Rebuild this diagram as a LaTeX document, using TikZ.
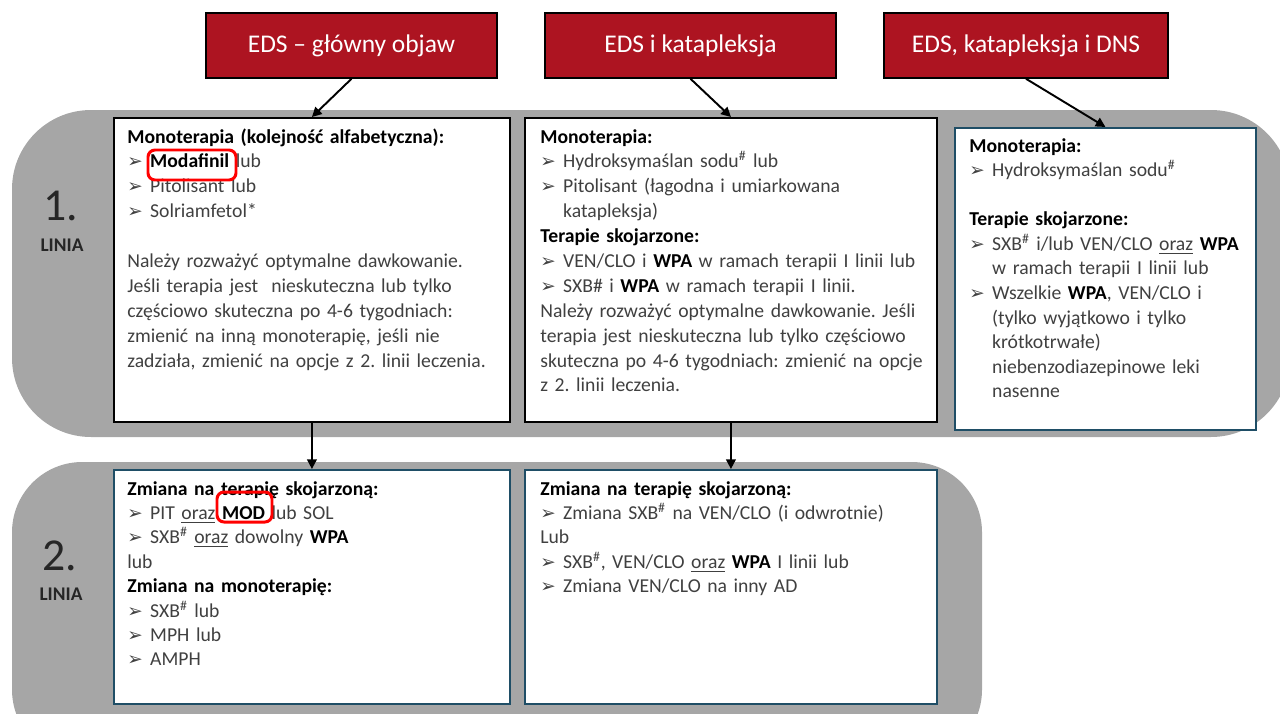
\documentclass[tikz,border=0pt]{standalone}
\usepackage{fontspec}
\setmainfont{Carlito}
\newfontfamily\symfont{DejaVu Sans}
\definecolor{HdrRed}{HTML}{AD1421}
\definecolor{BandGray}{HTML}{A6A6A6}
\definecolor{BoxTeal}{HTML}{1F4E66}
\definecolor{TxtGray}{HTML}{404040}
\usetikzlibrary{arrows.meta, positioning, calc}
\newcommand{\bul}{{\symfont\fontsize{10.5}{10}\selectfont ➢}}
\newcommand{\itm}{\par\hangindent=13pt\hangafter=1\noindent\makebox[13pt][l]{\bul}}
\newcommand{\hd}[1]{{\bfseries\color{black}#1}}
\newcommand{\sx}{\textsuperscript{\#}}
\begin{document}
\begin{tikzpicture}[x=0.02cm, y=-0.02cm, >={Triangle[width=5.5pt,length=5.5pt]},
  hdr/.style={draw=black, line width=0.9pt, fill=HdrRed, text=white,
    font=\fontsize{14.5}{17}\selectfont, minimum height=1.3cm},
  box/.style={draw=black, line width=1.1pt, fill=white, anchor=north west,
    inner sep=0pt},
  tbox/.style={box, draw=BoxTeal},
  txt/.style={anchor=base west, inner sep=0pt, text=TxtGray,
    execute at begin node={\raggedright\frenchspacing},
    font=\fontsize{11.2}{14.17}\selectfont},
  lnum/.style={text=black!85, font=\fontsize{26}{30}\selectfont},
  llab/.style={text=black!85, font=\fontsize{11}{13}\selectfont\bfseries},
  flow/.style={->, line width=1.1pt},
  hilite/.style={draw=red, line width=1.7pt, rounded corners=4pt}]
  \clip (0,0) rectangle (1280,713);
  % grey bands
  \fill[BandGray, rounded corners=45] (12,110) rectangle (1290,437);
  \fill[BandGray, rounded corners=40] (12,462) rectangle (982,760);

  % headers
  \node[hdr, minimum width=5.82cm] (h1) at (351.5,45.5) {EDS – główny objaw};
  \node[hdr, minimum width=5.82cm] (h2) at (690.5,45.5) {EDS i katapleksja};
  \node[hdr, minimum width=5.68cm] (h3) at (1026,45.5) {EDS, katapleksja i DNS};

  % line labels
  \node[lnum] (n1) at (61,206) {1.};
  \node[llab] (lab1) at (62,245) {LINIA};
  \node[lnum] (n2) at (60,556) {2.};
  \node[llab] (lab2) at (61,594) {LINIA};

  % boxes
  \node[box, minimum width=7.92cm, minimum height=6.08cm] (l1a) at (113,117) {};
  \node[box, minimum width=8.24cm, minimum height=6.08cm] (l1b) at (524,117) {};
  \node[tbox, minimum width=6.02cm, minimum height=6.04cm] (l1c) at (954,127) {};
  \node[tbox, minimum width=7.92cm, minimum height=4.68cm] (l2a) at (113,469) {};
  \node[tbox, minimum width=8.24cm, minimum height=4.68cm] (l2b) at (524,469) {};

  \node[txt, text width=7.4cm] (t1a) at (127,143) {%
    \hd{Monoterapia (kolejność alfabetyczna):}
    \itm \hd{Modafinil} lub
    \itm Pitolisant lub
    \itm Solriamfetol*
    \par\mbox{}\par
    Należy rozważyć optymalne dawkowanie.\\
    Jeśli terapia jest \ nieskuteczna lub tylko\\
    częściowo skuteczna po 4-6 tygodniach:\\
    zmienić na inną monoterapię, jeśli nie\\
    zadziała, zmienić na opcje z 2. linii leczenia.};

  \node[txt, text width=7.8cm] (t1b) at (540,143) {%
    \hd{Monoterapia:}
    \itm Hydroksymaślan sodu\sx{} lub
    \itm Pitolisant (łagodna i umiarkowana\newline katapleksja)
    \par\hd{Terapie skojarzone:}
    \itm VEN/CLO i \hd{WPA} w ramach terapii I linii lub
    \itm SXB\# i \hd{WPA} w ramach terapii I linii.
    \par Należy rozważyć optymalne dawkowanie. Jeśli\\
    terapia jest nieskuteczna lub tylko częściowo\\
    skuteczna po 4-6 tygodniach: zmienić na opcje\\
    z 2. linii leczenia.};

  \node[txt, text width=5.6cm, font=\fontsize{11.2}{14}\selectfont] (t1c) at (969,152) {%
    \hd{Monoterapia:}
    \itm Hydroksymaślan sodu\sx
    \par\mbox{}\par
    \hd{Terapie skojarzone:}
    \itm SXB\sx{} i/lub VEN/CLO \underline{oraz} \hd{WPA}\newline w ramach terapii I linii lub
    \itm Wszelkie \hd{WPA}, VEN/CLO i\newline (tylko wyjątkowo i tylko\newline krótkotrwałe)\newline
    niebenzodiazepinowe leki\newline nasenne\par};

  \node[txt, text width=7.4cm, font=\fontsize{11.2}{13.9}\selectfont] (t2a) at (127,495) {%
    \hd{Zmiana na terapię skojarzoną:}
    \itm PIT \underline{oraz} \hd{MOD} lub SOL
    \itm SXB\sx{} \underline{oraz} dowolny \hd{WPA}
    \par lub
    \par\hd{Zmiana na monoterapię:}
    \itm SXB\sx{} lub
    \itm MPH lub
    \itm AMPH};

  \node[txt, text width=7.8cm, font=\fontsize{11.2}{13.9}\selectfont] (t2b) at (540,495) {%
    \hd{Zmiana na terapię skojarzoną:}
    \itm Zmiana SXB\sx{} na VEN/CLO (i odwrotnie)
    \par Lub
    \itm SXB\sx, VEN/CLO \underline{oraz} \hd{WPA} I linii lub
    \itm Zmiana VEN/CLO na inny AD};

  % highlights
  \draw[hilite] (148,150) rectangle (236,180);
  \draw[hilite] (217,492) rectangle (272,522);

  % connectors
  \draw[flow] (h1.south) -- (l1a.north);
  \draw[flow] (h2.south) -- (l1b.north);
  \draw[flow] (h3.south) -- (l1c.north);
  \draw[flow] (l1a.south) -- (l2a.north);
  \draw[flow] (l1b.south) -- (l2b.north);
\end{tikzpicture}
\end{document}
